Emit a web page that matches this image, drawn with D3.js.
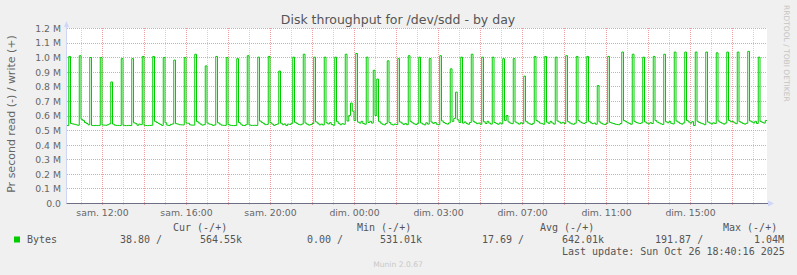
<!DOCTYPE html>
<html>
<head>
<meta charset="utf-8">
<script src="https://cdn.jsdelivr.net/npm/d3@7/dist/d3.min.js"></script>
<style>
  body { margin: 0; background: #f0f0f0; }
  text { font-family: "DejaVu Sans", sans-serif; fill: #666; }
  .mono { font-family: "DejaVu Sans Mono", monospace; font-size: 10px; fill: #555; }
</style>
</head>
<body>
<div class="chart"></div>
<script>
// write throughput in kB/s, one sample every 5 minutes (spike every ~30 min)
var stepMinutes = 5;
var write = [
  531,
  1005, 545, 542, 540, 536, 533,
  1010, 574, 565, 552, 545, 536,
  998, 532, 531, 532, 531, 532,
  998, 535, 534, 533, 537, 543,
  830, 541, 534, 532, 532, 531,
  990, 533, 531, 531, 532, 531,
  990, 550, 544, 533, 541, 537,
  1005, 533, 531, 531, 532, 533,
  1005, 560, 552, 546, 539, 532,
  998, 550, 534, 531, 539, 542,
  980, 544, 541, 537, 536, 535,
  998, 548, 547, 536, 534, 534,
  1020, 558, 549, 541, 534, 537,
  940, 548, 541, 539, 532, 535,
  1005, 550, 541, 534, 533, 532,
  998, 537, 533, 531, 531, 532,
  990, 552, 541, 532, 531, 537,
  1010, 535, 532, 532, 533, 532,
  1000, 562, 553, 546, 537, 539,
  1005, 550, 541, 532, 538, 542,
  905, 547, 537, 542, 531, 541, 539, 546,
  1000, 553, 546, 539, 536, 541,
  1020, 548, 540, 534, 538, 545,
  1000, 556, 547, 536, 541, 535,
  1000, 550, 542, 551, 538, 533,
  1000, 558, 546, 537, 544, 540,
  1020, 562, 600,
  685, 630, 565,
  1025, 555, 548, 560, 545, 540,
  1000, 552, 560, 548,
  910, 600,
  850, 560, 548, 540, 536, 545,
  975, 552, 540, 535, 541, 538,
  990, 556, 548, 539, 545, 537,
  1010, 560, 550, 543, 538, 546,
  1000, 549, 541, 536, 550, 541,
  990, 555, 546, 552, 540, 537,
  1010, 563, 552, 545, 541, 549,
  920, 560, 580,
  760, 570, 552,
  1000, 548, 556, 546, 540, 552,
  1020, 560, 551, 544, 548, 540,
  1000, 557, 545, 560, 548, 541,
  1000, 552, 546, 540, 549, 543,
  990, 565, 600, 556, 548, 544,
  990, 555, 548, 541, 550, 546,
  870, 560, 549, 543, 538, 546,
  1005, 565, 557, 548, 544, 540,
  1005, 554, 546, 560, 549, 541,
  1000, 562, 555, 547, 553, 545,
  1010, 558, 549, 543, 540, 547,
  1005, 566, 556, 549, 545, 552,
  1005, 560, 550, 544, 548, 540,
  805, 556, 547, 541, 538, 546,
  1005, 553, 548, 545, 540, 538, 537, 545,
  1035, 565, 558, 550, 546, 540,
  1020, 560, 552, 548, 545, 550,
  1000, 556, 548, 542, 551, 545,
  1005, 565, 555, 549, 543, 539,
  1020, 557, 550, 560, 546, 542,
  1035, 562, 554, 546, 541, 549,
  1035, 566, 556, 548, 558, 531,
  1035, 560, 552, 547, 543, 537,
  1035, 555, 548, 542, 550, 545,
  1030, 562, 553, 547, 541, 548,
  1035, 566, 557, 560, 550, 544,
  1035, 558, 551, 545, 541, 547,
  1040, 563, 556, 549, 560, 545,
  1000, 560, 553, 548, 565
];

// y axis ticks (bytes/s)
var yTicks = [0, 100000, 200000, 300000, 400000, 500000, 600000, 700000, 800000, 900000, 1000000, 1100000, 1200000];
var yTickLabels = ["0.0", "0.1 M", "0.2 M", "0.3 M", "0.4 M", "0.5 M", "0.6 M", "0.7 M", "0.8 M", "0.9 M", "1.0 M", "1.1 M", "1.2 M"];

// x axis labels, minutes since start of the window
var xTickMinutes = [100, 340, 580, 820, 1060, 1300, 1540, 1780];
var xTickLabels = ["sam. 12:00", "sam. 16:00", "sam. 20:00", "dim. 00:00", "dim. 03:00", "dim. 07:00", "dim. 11:00", "dim. 15:00"];

// legend
var legendHeaders = ["Cur (-/+)", "Min (-/+)", "Avg (-/+)", "Max (-/+)"];
var legendValues = ["38.80 /", "564.55k", "0.00 /", "531.01k", "17.69 /", "642.01k", "191.87 /", "1.04M"];
var seriesName = "Bytes";
var lastUpdate = "Last update: Sun Oct 26 18:40:16 2025";

var svgWidth = 797;
var svgHeight = 275;
var margin = { top: 28, right: 30, bottom: 72, left: 67 };
var width = svgWidth - margin.left - margin.right;
var height = svgHeight - margin.top - margin.bottom;

var svg = d3.select(".chart")
  .append("svg")
  .attr("width", svgWidth)
  .attr("height", svgHeight);

svg.append("rect")
  .attr("width", svgWidth)
  .attr("height", svgHeight)
  .attr("fill", "#f0f0f0");

var chart = svg.append("g")
  .attr("transform", "translate(" + margin.left + "," + margin.top + ")");

chart.append("rect")
  .attr("width", width)
  .attr("height", height)
  .attr("fill", "#fff");

var totalMinutes = write.length * stepMinutes;

var xScale = d3.scaleLinear()
  .domain([0, totalMinutes])
  .range([0, width]);

var yScale = d3.scaleLinear()
  .domain([0, 1200000])
  .range([height, 0]);

// vertical grid, one line per hour; red on even hours
var hourLines = d3.range(40, totalMinutes, 60);
chart.selectAll(".vgrid")
  .data(hourLines)
  .enter().append("line")
    .attr("class", "vgrid")
    .attr("x1", function(d) { return Math.round(xScale(d)) + 0.5; })
    .attr("x2", function(d) { return Math.round(xScale(d)) + 0.5; })
    .attr("y1", 0)
    .attr("y2", height + 3)
    .attr("stroke", function(d, i) { return i % 2 ? "#f0a0a0" : "#d4d4d4"; })
    .attr("stroke-dasharray", function(d) { return "1,1"; });

// horizontal grid
chart.selectAll(".hgrid")
  .data(yTicks.slice(1))
  .enter().append("line")
    .attr("class", "hgrid")
    .attr("x1", 0)
    .attr("x2", width)
    .attr("y1", function(d) { return Math.round(yScale(d)) + 0.5; })
    .attr("y2", function(d) { return Math.round(yScale(d)) + 0.5; })
    .attr("stroke", "#f0a0a0")
    .attr("stroke-dasharray", "1,1");

// y axis
var leftAxis = d3.axisLeft(yScale)
  .tickValues(yTicks)
  .tickSize(0)
  .tickPadding(6)
  .tickFormat(function(d, i) { return yTickLabels[i]; });

var yAxis = chart.append("g").call(leftAxis);
yAxis.select(".domain").remove();
yAxis.selectAll("text")
  .attr("font-family", "DejaVu Sans")
  .attr("font-size", "9.3px")
  .attr("fill", "#666")
  .attr("dy", "0.36em");

// x axis labels
var bottomAxis = d3.axisBottom(xScale)
  .tickValues(xTickMinutes)
  .tickSize(0)
  .tickPadding(6)
  .tickFormat(function(d, i) { return xTickLabels[i]; });

var xAxis = chart.append("g")
  .attr("transform", "translate(0," + height + ")")
  .call(bottomAxis);
xAxis.select(".domain").remove();
xAxis.selectAll("text")
  .attr("font-family", "DejaVu Sans")
  .attr("font-size", "9.3px")
  .attr("fill", "#666")
  .attr("y", 12.5)
  .attr("dy", 0);

// write line, rrdtool style steps
var line = d3.line()
  .x(function(d, i) { return xScale(i * stepMinutes); })
  .y(function(d) { return yScale(d * 1000); })
  .curve(d3.curveStepAfter);

chart.append("path")
  .datum(write.concat([write[write.length - 1]]))
  .attr("d", line)
  .attr("fill", "none")
  .attr("stroke", "#00cc00")
  .attr("stroke-width", 1);

// axes lines and arrows
chart.append("line")
  .attr("x1", -0.5).attr("x2", -0.5)
  .attr("y1", height).attr("y2", -4)
  .attr("stroke", "#cfd6f8");
chart.append("path")
  .attr("d", "M-3,-1 L2,-1 L-0.5,-7 Z")
  .attr("fill", "#cfd6f8");

chart.append("line")
  .attr("x1", -0.5).attr("x2", width + 2)
  .attr("y1", height + 0.5).attr("y2", height + 0.5)
  .attr("stroke", "#6e6e86");
chart.append("path")
  .attr("d", "M" + (width + 1) + "," + (height - 2.5) + " L" + (width + 7) + "," + (height + 0.5) + " L" + (width + 1) + "," + (height + 3.5) + " Z")
  .attr("fill", "#cfd6f8");

// title
svg.append("text")
  .attr("x", 398)
  .attr("y", 24)
  .attr("text-anchor", "middle")
  .attr("font-size", "12.5px")
  .style("fill", "#555")
  .text("Disk throughput for /dev/sdd - by day");

// y label
svg.append("text")
  .attr("transform", "translate(15,114) rotate(-90)")
  .attr("text-anchor", "middle")
  .attr("font-size", "11px")
  .text("Pr second read (-) / write (+)");

// watermark
svg.append("text")
  .attr("transform", "translate(784,5) rotate(90)")
  .attr("font-size", "7.5px")
  .style("fill", "#c4c4c4")
  .text("RRDTOOL / TOBI OETIKER");

// legend
var headerX = [173, 357, 540, 723];
svg.selectAll(".lhead")
  .data(legendHeaders)
  .enter().append("text")
    .attr("class", "mono")
    .attr("x", function(d, i) { return headerX[i]; })
    .attr("y", 231)
    .text(function(d) { return d; });

svg.append("rect")
  .attr("x", 14).attr("y", 236.5)
  .attr("width", 6).attr("height", 6)
  .attr("fill", "#00cc00");

svg.append("text")
  .attr("class", "mono")
  .attr("x", 27)
  .attr("y", 242.5)
  .text(seriesName);

var valueX = [120, 200, 307, 380, 482, 562, 655, 754];
svg.selectAll(".lval")
  .data(legendValues)
  .enter().append("text")
    .attr("class", "mono")
    .attr("x", function(d, i) { return valueX[i]; })
    .attr("y", 242.5)
    .text(function(d) { return d; });

svg.append("text")
  .attr("class", "mono")
  .attr("x", 562)
  .attr("y", 254.5)
  .text(lastUpdate);

svg.append("text")
  .attr("x", 398)
  .attr("y", 266.5)
  .attr("text-anchor", "middle")
  .attr("font-size", "7.6px")
  .style("fill", "#c8c8c8")
  .text("Munin 2.0.67");
</script>
</body>
</html>
